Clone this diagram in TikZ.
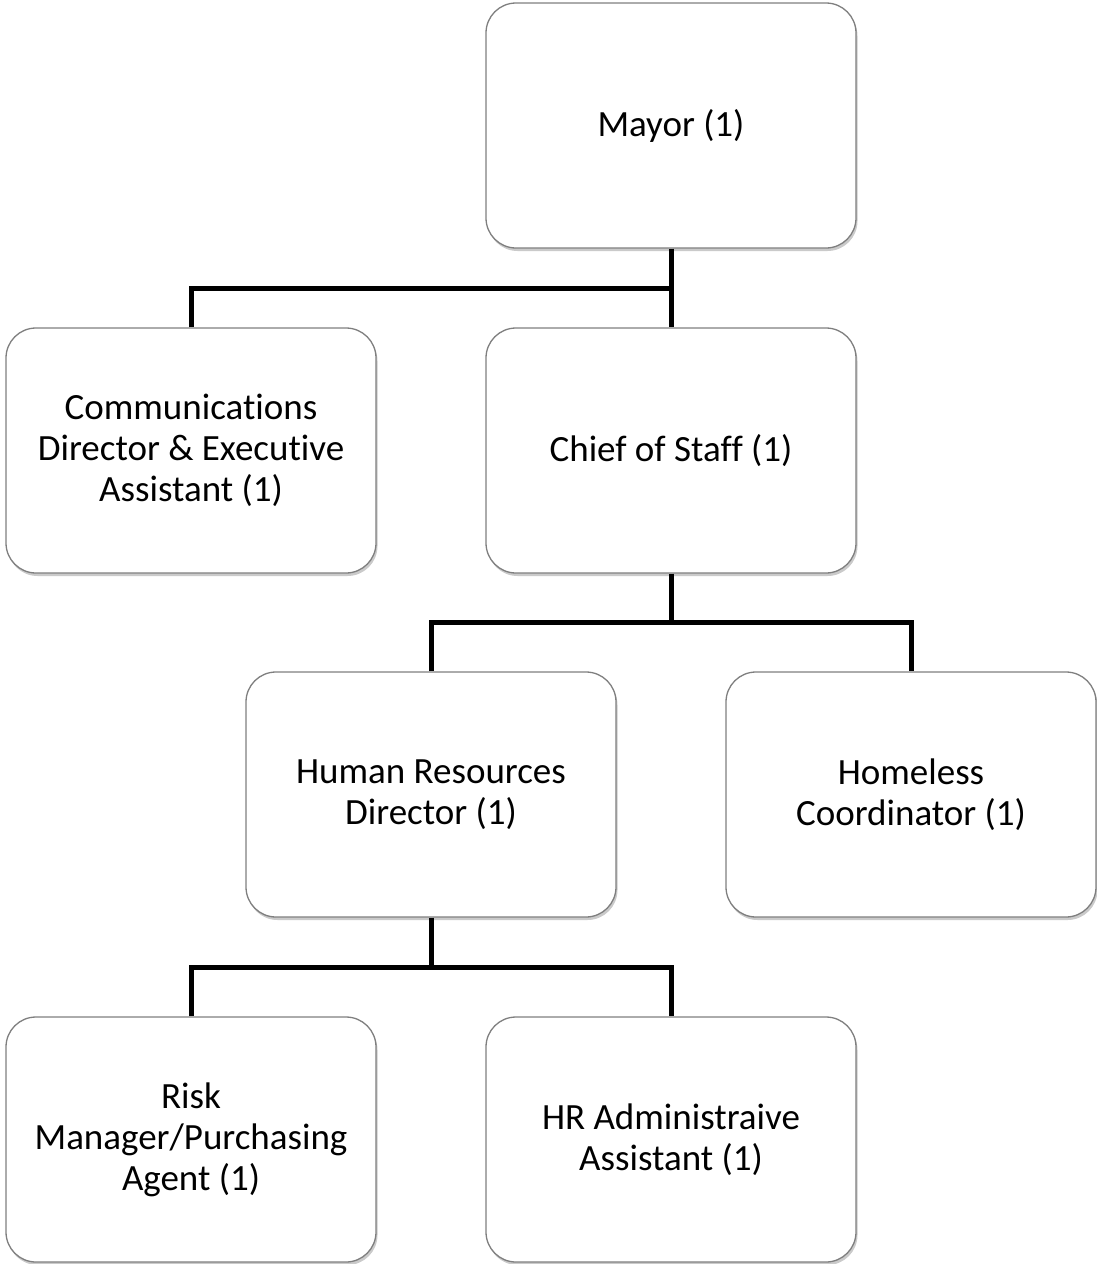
\documentclass[tikz,border=0pt]{standalone}
\usepackage{fontspec}
\setmainfont{Carlito}[Ligatures=NoCommon]
\usetikzlibrary{calc,shadows}
\definecolor{boxline}{HTML}{7F7F7F}
\tikzset{
  orgbox/.style={draw=boxline, line width=1.3pt, fill=white, rounded corners=30pt,
    minimum width=370pt, minimum height=245pt, align=center,
    font=\fontsize{37}{41}\selectfont,
    drop shadow={shadow xshift=1.5pt, shadow yshift=-3pt, opacity=0.35, fill=black!60}},
  link/.style={line width=5pt, black}
}
\begin{document}
\begin{tikzpicture}[x=1pt,y=-1pt]
  \useasboundingbox (0,0) rectangle (1097,1264);

  % boxes
  \node[orgbox] (mayor)    at (671,125.5)  {Mayor (1)};
  \node[orgbox] (comm)     at (191,450.5)  {Communications\\Director \& Executive\\Assistant (1)};
  \node[orgbox] (chief)    at (671,450.5)  {Chief of Staff (1)};
  \node[orgbox] (hr)       at (431,794.5)  {Human Resources\\Director (1)};
  \node[orgbox] (homeless) at (911,794.5)  {Homeless\\Coordinator (1)};
  \node[orgbox] (risk)     at (191,1139.5) {Risk\\Manager/Purchasing\\Agent (1)};
  \node[orgbox] (hradmin)  at (671,1139.5) {HR Administraive\\Assistant (1)};

  % junction points on the connector bars, straight below each parent
  \coordinate (j1) at ($(mayor.south)!0.5!(chief.north -| mayor.south)$);
  \coordinate (j2) at ($(chief.south)!0.5!(hr.north -| chief.south)$);
  \coordinate (j3) at ($(hr.south)!0.5!(risk.north -| hr.south)$);

  % connectors
  \draw[link] (mayor.south) -- (chief.north);
  \draw[link] (comm.north) |- (j1);

  \draw[link] (chief.south) -- (j2);
  \draw[link] (hr.north) |- (j2) -| (homeless.north);

  \draw[link] (hr.south) -- (j3);
  \draw[link] (risk.north) |- (j3) -| (hradmin.north);
\end{tikzpicture}
\end{document}
